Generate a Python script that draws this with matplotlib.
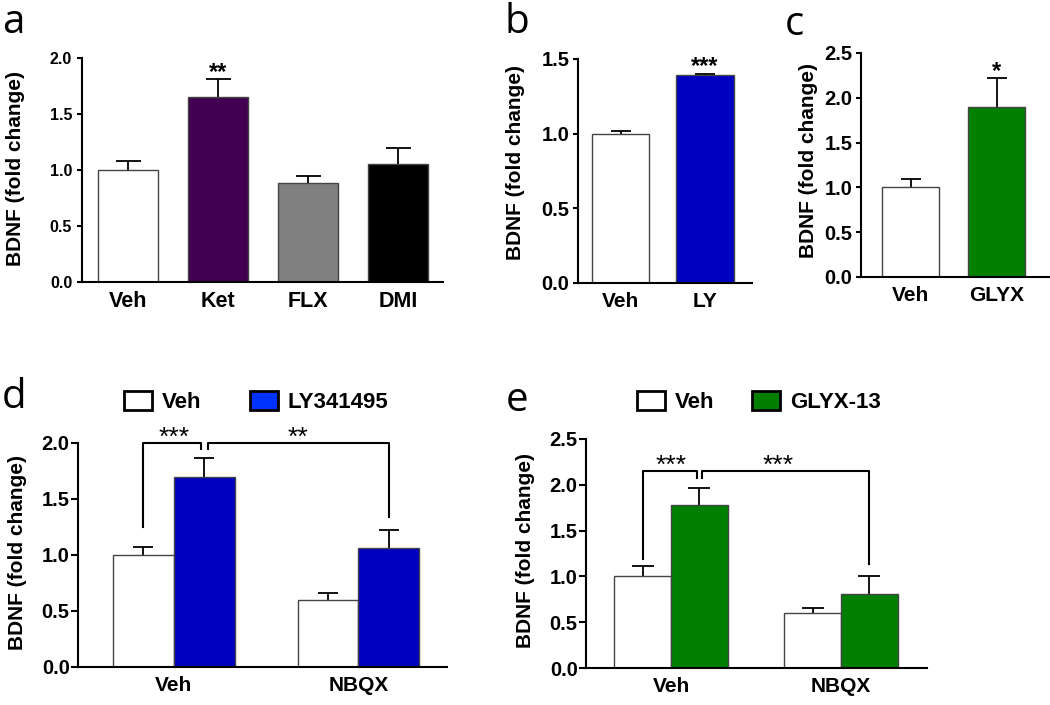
import numpy as np
import matplotlib
matplotlib.use("Agg")
import matplotlib.pyplot as plt
from matplotlib.patches import Patch

plt.rcParams['font.family'] = ['Liberation Sans', 'DejaVu Sans']

# panel a
a_labels = ['Veh', 'Ket', 'FLX', 'DMI']
a_mean = [1.0, 1.65, 0.88, 1.05]
a_sem = [0.08, 0.16, 0.07, 0.15]
a_colors = ['white', '#420050', '#808080', 'black']
a_stars = ['', '**', '', '']

# panel b
b_labels = ['Veh', 'LY']
b_mean = [1.0, 1.39]
b_sem = [0.02, 0.01]
b_colors = ['white', '#0000C0']
b_stars = ['', '***']

# panel c
c_labels = ['Veh', 'GLYX']
c_mean = [1.0, 1.90]
c_sem = [0.09, 0.32]
c_colors = ['white', '#007F00']
c_stars = ['', '*']

# panels d, e (grouped)
groups = ['Veh', 'NBQX']
d_veh = [1.0, 0.60]
d_veh_sem = [0.07, 0.06]
d_ly = [1.70, 1.06]
d_ly_sem = [0.17, 0.16]
e_veh = [1.0, 0.60]
e_veh_sem = [0.11, 0.06]
e_glyx = [1.78, 0.81]
e_glyx_sem = [0.19, 0.19]

W, H = 1050, 705
fig = plt.figure(figsize=(W / 100, H / 100), dpi=100)


def px_axes(left, right, top, bottom):
    return fig.add_axes([left / W, 1 - bottom / H, (right - left) / W, (bottom - top) / H])


def style(ax, ymax, ystep, ytick_size, xtick_size, tick_len, tick_pad):
    for s in ['top', 'right']:
        ax.spines[s].set_visible(False)
    for s in ['left', 'bottom']:
        ax.spines[s].set_linewidth(1.5)
    ax.set_ylim(0, ymax)
    ax.set_yticks(np.arange(0, ymax + 0.01, ystep))
    ax.yaxis.set_major_formatter(plt.FormatStrFormatter('%.1f'))
    ax.tick_params(axis='y', direction='out', length=tick_len, width=1.5,
                   pad=tick_pad, labelsize=ytick_size)
    ax.tick_params(axis='x', length=0, pad=6.5, labelsize=xtick_size)
    for t in ax.get_xticklabels() + ax.get_yticklabels():
        t.set_fontweight('bold')


def ylab(ax, right_px, center_px):
    ax.set_ylabel('BDNF (fold change)', fontsize=15, fontweight='bold')
    ax.yaxis.set_label_coords(right_px / W, 1 - center_px / H, transform=fig.transFigure)


def bars(ax, x, vals, sem, colors, width, capsize):
    ax.errorbar(x, vals, yerr=sem, fmt='none', ecolor='black', elinewidth=1.3,
                capsize=capsize, capthick=1.3, zorder=1)
    ax.bar(x, vals, width, color=colors, edgecolor='#444444', linewidth=1.0, zorder=2)


def star(ax, x, y, s, size=17, weight='bold', up=10):
    ax.annotate(s, (x, y), xytext=(0, up - 0.57 * size), textcoords='offset points',
                ha='center', va='baseline', fontsize=size, fontweight=weight,
                annotation_clip=False)


def letter(s, x_px, base_px):
    fig.text(x_px / W, 1 - base_px / H, s, fontsize=29, family='Open Sans',
             ha='left', va='baseline')


# ---- a
ax = px_axes(82, 443, 58, 282)
xa = np.arange(len(a_labels))
bars(ax, xa, a_mean, a_sem, a_colors, 0.667, 9)
for i, s in enumerate(a_stars):
    if s:
        star(ax, xa[i], a_mean[i] + a_sem[i], s)
ax.set_xlim(-0.51, 3.5)
ax.set_xticks(xa, a_labels)
style(ax, 2.0, 0.5, 11.5, 15.5, 3.6, 3.5)
ylab(ax, 25, 169)
letter('a', 2, 33)

# ---- b
ax = px_axes(578, 752, 59, 283)
xb = np.arange(len(b_labels))
bars(ax, xb, b_mean, b_sem, b_colors, 0.68, 7)
for i, s in enumerate(b_stars):
    if s:
        star(ax, xb[i], b_mean[i] + b_sem[i], s)
ax.set_xlim(-0.51, 1.56)
ax.set_xticks(xb, b_labels)
style(ax, 1.5, 0.5, 14.5, 15, 3.6, 2.5)
ylab(ax, 525, 163)
letter('b', 505, 33)

# ---- c
ax = px_axes(861, 1050, 53, 277)
xc = np.arange(len(c_labels))
bars(ax, xc, c_mean, c_sem, c_colors, 0.66, 7)
for i, s in enumerate(c_stars):
    if s:
        star(ax, xc[i], c_mean[i] + c_sem[i], s)
ax.set_xlim(-0.58, 1.62)
ax.set_xticks(xc, c_labels)
style(ax, 2.5, 0.5, 14.5, 15, 3.6, 2.5)
ylab(ax, 818, 160)
letter('c', 785, 35)


# ---- d, e grouped
def grouped(ax, veh, veh_sem, drug, drug_sem, color, w, capsize, top, inner, drops, gap):
    xg = np.arange(len(groups))
    bars(ax, xg - w / 2, veh, veh_sem, 'white', w, capsize)
    bars(ax, xg + w / 2, drug, drug_sem, color, w, capsize)
    x0, x1, x2 = xg[0] - w / 2, xg[0] + w / 2, xg[1] + w / 2
    ax.plot([x0, x0, x1 - gap, x1 - gap], [drops[0], top, top, inner],
            color='black', lw=1.5, clip_on=False, zorder=4)
    ax.plot([x1 + gap, x1 + gap, x2, x2], [inner, top, top, drops[1]],
            color='black', lw=1.5, clip_on=False, zorder=4)
    ax.set_xticks(xg, groups)


def legend(ax, labels, color, left_px, colspace):
    handles = [Patch(facecolor='white', edgecolor='black', linewidth=2),
               Patch(facecolor=color, edgecolor='black', linewidth=2)]
    ax.legend(handles, labels, ncol=2, frameon=False, loc='center left',
              bbox_to_anchor=(left_px / W, 1 - 402 / H), bbox_transform=fig.transFigure,
              borderpad=0, borderaxespad=0, handlelength=1.25, handleheight=0.9,
              handletextpad=0.45, columnspacing=colspace,
              prop=dict(weight='bold', size=16))


ax = px_axes(78, 447, 443, 667)
grouped(ax, d_veh, d_veh_sem, d_ly, d_ly_sem, '#0000C0', 0.33, 7,
        2.0, 1.95, (1.25, 1.34), 0.017)
star(ax, 0.0, 2.0, '***', size=19, weight='normal', up=9.5)
star(ax, 0.67, 2.0, '**', size=19, weight='normal', up=9.5)
ax.set_xlim(-0.52, 1.48)
style(ax, 2.0, 0.5, 14.5, 15, 5, 1)
ylab(ax, 27, 553)
legend(ax, ['Veh', 'LY341495'], '#0033FF', 124, 2.2)
letter('d', 2, 408)

ax = px_axes(586, 927, 439, 668)
grouped(ax, e_veh, e_veh_sem, e_glyx, e_glyx_sem, '#007F00', 0.335, 8,
        2.15, 2.07, (1.19, 1.135), 0.016)
star(ax, 0.0, 2.15, '***', size=19, weight='normal', up=9.5)
star(ax, 0.63, 2.15, '***', size=19, weight='normal', up=9.5)
ax.set_xlim(-0.5, 1.506)
style(ax, 2.5, 0.5, 14.5, 15, 5, 1)
ylab(ax, 535, 550)
legend(ax, ['Veh', 'GLYX-13'], '#007F00', 637, 1.7)
letter('e', 506, 411)

fig.savefig('out.png', dpi=100)
